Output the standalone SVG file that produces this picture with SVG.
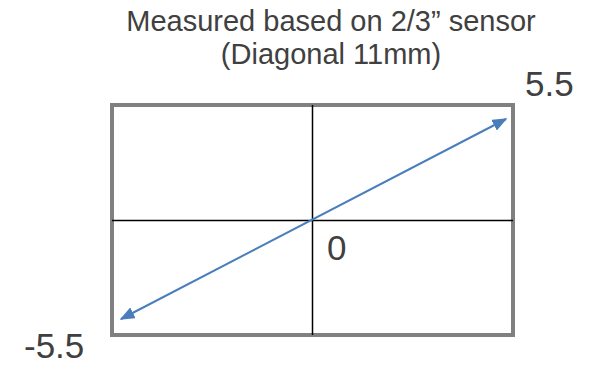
<svg xmlns="http://www.w3.org/2000/svg" width="595" height="365" viewBox="0 0 595 365">
<style>
text{font-family:"Liberation Sans",Arial,sans-serif;fill:#404040}
.t{font-size:29px;text-anchor:middle}
.n{font-size:35px}
</style>
<defs>
<marker id="ah" viewBox="0 0 10 8" refX="9" refY="4" markerWidth="7.5" markerHeight="6" orient="auto-start-reverse" markerUnits="strokeWidth">
<path d="M0,0 L10,4 L0,8 Z" fill="#4a7ebb"/>
</marker>
</defs>
<rect width="595" height="365" fill="#fff"/>
<g id="title">
<text class="t" x="331" y="31">Measured based on 2/3” sensor</text>
<text class="t" x="331" y="64">(Diagonal 11mm)</text>
</g>
<g id="frame">
<rect x="112" y="105" width="401" height="230" fill="none" stroke="#808080" stroke-width="4"/>
</g>
<g id="axes">
<line x1="312.5" y1="105" x2="312.5" y2="335" stroke="#000" stroke-width="1.5"/>
<line x1="112" y1="220.5" x2="513" y2="220.5" stroke="#000" stroke-width="1.5"/>
</g>
<g id="connectors">
<line x1="121" y1="319" x2="506" y2="119" stroke="#4a7ebb" stroke-width="2" marker-start="url(#ah)" marker-end="url(#ah)"/>
</g>
<g id="labels">
<text class="n" x="525" y="96">5.5</text>
<text class="n" x="327" y="260">0</text>
<text class="n" x="24" y="358">-5.5</text>
</g>
</svg>
